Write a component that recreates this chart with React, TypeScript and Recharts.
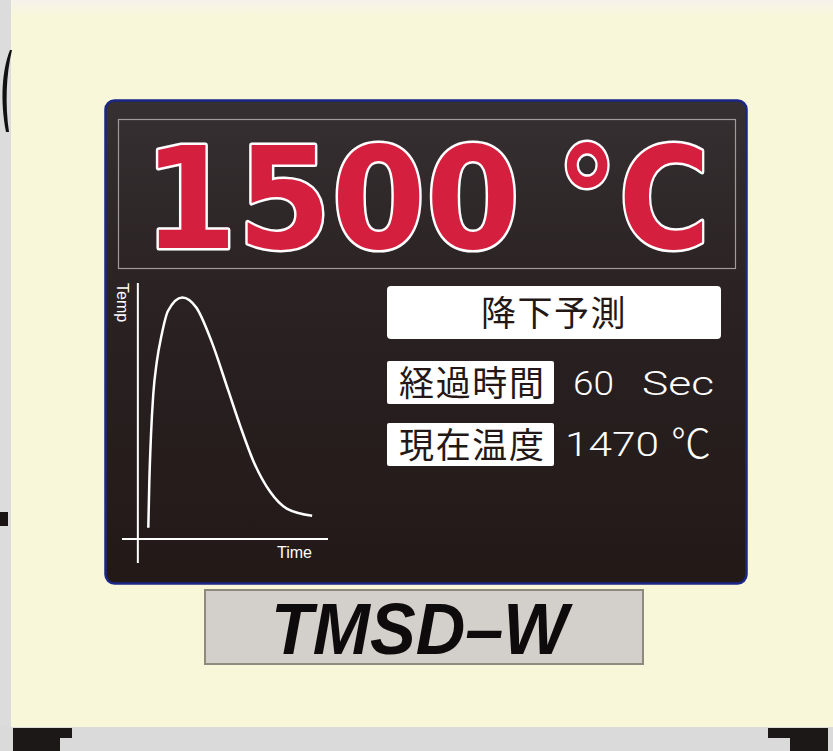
import { LineChart, Line, XAxis, YAxis, ReferenceLine } from "recharts";

const time = [6.6, 7.2, 8.3, 9.7, 12, 15, 19, 28, 37, 46.5, 57, 64.5, 73, 83.5, 94, 110];
const temp = [70, 340, 650, 900, 1110, 1275, 1425, 1510, 1445, 1235, 930, 710, 485, 295, 190, 145];

const timeDomain: [number, number] = [-10, 120];
const tempDomain: [number, number] = [-150, 1600];

const bigReading = "1500";
const bigUnit = "°C";
const title = "降下予測";
const elapsedLabel = "経過時間";
const elapsedValue = "60 Sec";
const currentLabel = "現在温度";
const currentValue = "1470";
const currentUnit = "℃";
const model = "TMSD–W";

const data = time.map((t, i) => ({ time: t, temp: temp[i] }));

const CJK = '"Noto Sans CJK JP", "Noto Sans CJK SC", sans-serif';
const LATIN = 'Roboto, "Liberation Sans", sans-serif';

function Device() {
  const [secNum, secUnit] = elapsedValue.split(" ");
  return (
    <svg width={833} height={751} style={{ position: "absolute", left: 0, top: 0 }}>
      <defs>
        <linearGradient id="panel" x1="0" y1="0" x2="0" y2="1">
          <stop offset="0" stopColor="#363032" />
          <stop offset="0.4" stopColor="#2a2223" />
          <stop offset="1" stopColor="#221917" />
        </linearGradient>
        <linearGradient id="top" x1="0" y1="0" x2="0" y2="1">
          <stop offset="0" stopColor="#f6f2ec" />
          <stop offset="1" stopColor="#f8f7da" />
        </linearGradient>
      </defs>

      {/* housing */}
      <rect x={0} y={0} width={833} height={751} fill="#f8f7da" />
      <rect x={0} y={0} width={833} height={15} fill="url(#top)" />
      <rect x={0} y={0} width={11} height={751} fill="#dcdcdc" />
      <path d="M10 50 C 2 70, 0 100, 6 132 L 9 132 C 5 105, 6 75, 12 50 Z" fill="#111" />
      <rect x={0} y={512} width={8} height={14} fill="#1a1414" />
      <rect x={0} y={727} width={833} height={24} fill="#dadada" />
      <path d="M13 728 H72 V738 H60 V751 H13 Z" fill="#1c1818" />
      <path d="M768 728 H828 V751 H790 V738 H768 Z" fill="#1c1818" />

      {/* display panel */}
      <rect x={105.5} y={100.5} width={641} height={483} rx={9} fill="url(#panel)" stroke="#1b2687" strokeWidth={2.5} />
      <rect x={118.5} y={119.5} width={617} height={149} fill="none" stroke="#a29a98" strokeWidth={1.2} />

      <g
        fontFamily='"DejaVu Sans", sans-serif'
        fontWeight="bold"
        fontSize={141}
        fill="#d41f3f"
        stroke="#ffffff"
        strokeWidth={5}
        strokeLinejoin="round"
        style={{ paintOrder: "stroke" }}
      >
        <text x={143} y={248} textLength={377} lengthAdjust="spacingAndGlyphs">
          {bigReading}
        </text>
        <text x={556} y={248} textLength={154} lengthAdjust="spacingAndGlyphs">
          {bigUnit}
        </text>
      </g>

      {/* readout */}
      <rect x={387} y={286} width={334} height={53} rx={4} fill="#ffffff" />
      <text x={554} y={326} textAnchor="middle" fontFamily={CJK} fontSize={35} fill="#231815" letterSpacing={1.5}>
        {title}
      </text>

      <rect x={387} y={361} width={167} height={43} rx={2} fill="#ffffff" />
      <text x={399} y={396} fontFamily={CJK} fontSize={35} fill="#231815" textLength={145}>
        {elapsedLabel}
      </text>
      <g fontFamily={LATIN} fontWeight={300} fontSize={33} fill="#ffffff">
        <text x={573} y={395} textLength={41} lengthAdjust="spacingAndGlyphs">
          {secNum}
        </text>
        <text x={642} y={395} textLength={72} lengthAdjust="spacingAndGlyphs">
          {secUnit}
        </text>
      </g>

      <rect x={387} y={423} width={167} height={43} rx={2} fill="#ffffff" />
      <text x={399} y={458} fontFamily={CJK} fontSize={35} fill="#231815" textLength={145}>
        {currentLabel}
      </text>
      <text
        x={565}
        y={456}
        fontFamily={LATIN}
        fontWeight={300}
        fontSize={34}
        fill="#ffffff"
        textLength={94}
        lengthAdjust="spacingAndGlyphs"
      >
        {currentValue}
      </text>
      <text x={671} y={458} fontFamily={CJK} fontWeight={300} fontSize={40} fill="#ffffff">
        {currentUnit}
      </text>

      {/* axis captions */}
      <text
        x={117}
        y={283}
        transform="rotate(90 117 283)"
        fontFamily='"Liberation Sans", sans-serif'
        fontSize={16}
        fill="#ffffff"
      >
        Temp
      </text>
      <text x={277} y={558} fontFamily='"Liberation Sans", sans-serif' fontSize={16} fill="#ffffff">
        Time
      </text>

      {/* name plate */}
      <rect x={205} y={590} width={438} height={74} fill="#d3cfca" stroke="#8e8a7e" strokeWidth={2} />
      <text
        x={271}
        y={654}
        fontFamily='"Liberation Sans", Arial, sans-serif'
        fontWeight="bold"
        fontStyle="italic"
        fontSize={72}
        fill="#0d0b0b"
        textLength={297}
        lengthAdjust="spacingAndGlyphs"
      >
        {model}
      </text>
    </svg>
  );
}

export default function App() {
  return (
    <div style={{ position: "fixed", left: 0, top: 0, width: 833, height: 751, overflow: "hidden" }}>
      <Device />
      <div style={{ position: "absolute", left: 118, top: 279 }}>
        <LineChart width={214} height={288} data={data} margin={{ top: 4, right: 4, bottom: 4, left: 4 }}>
          <XAxis type="number" dataKey="time" domain={timeDomain} allowDataOverflow hide />
          <YAxis type="number" domain={tempDomain} allowDataOverflow hide />
          <ReferenceLine
            segment={[
              { x: timeDomain[0], y: 0 },
              { x: timeDomain[1], y: 0 },
            ]}
            stroke="#ffffff"
            strokeWidth={2}
            ifOverflow="visible"
          />
          <ReferenceLine
            segment={[
              { x: 0, y: tempDomain[0] },
              { x: 0, y: tempDomain[1] },
            ]}
            stroke="#ffffff"
            strokeWidth={2}
            ifOverflow="visible"
          />
          <Line
            type="monotone"
            dataKey="temp"
            stroke="#ffffff"
            strokeWidth={2.5}
            dot={false}
            activeDot={false}
            isAnimationActive={false}
          />
        </LineChart>
      </div>
    </div>
  );
}
